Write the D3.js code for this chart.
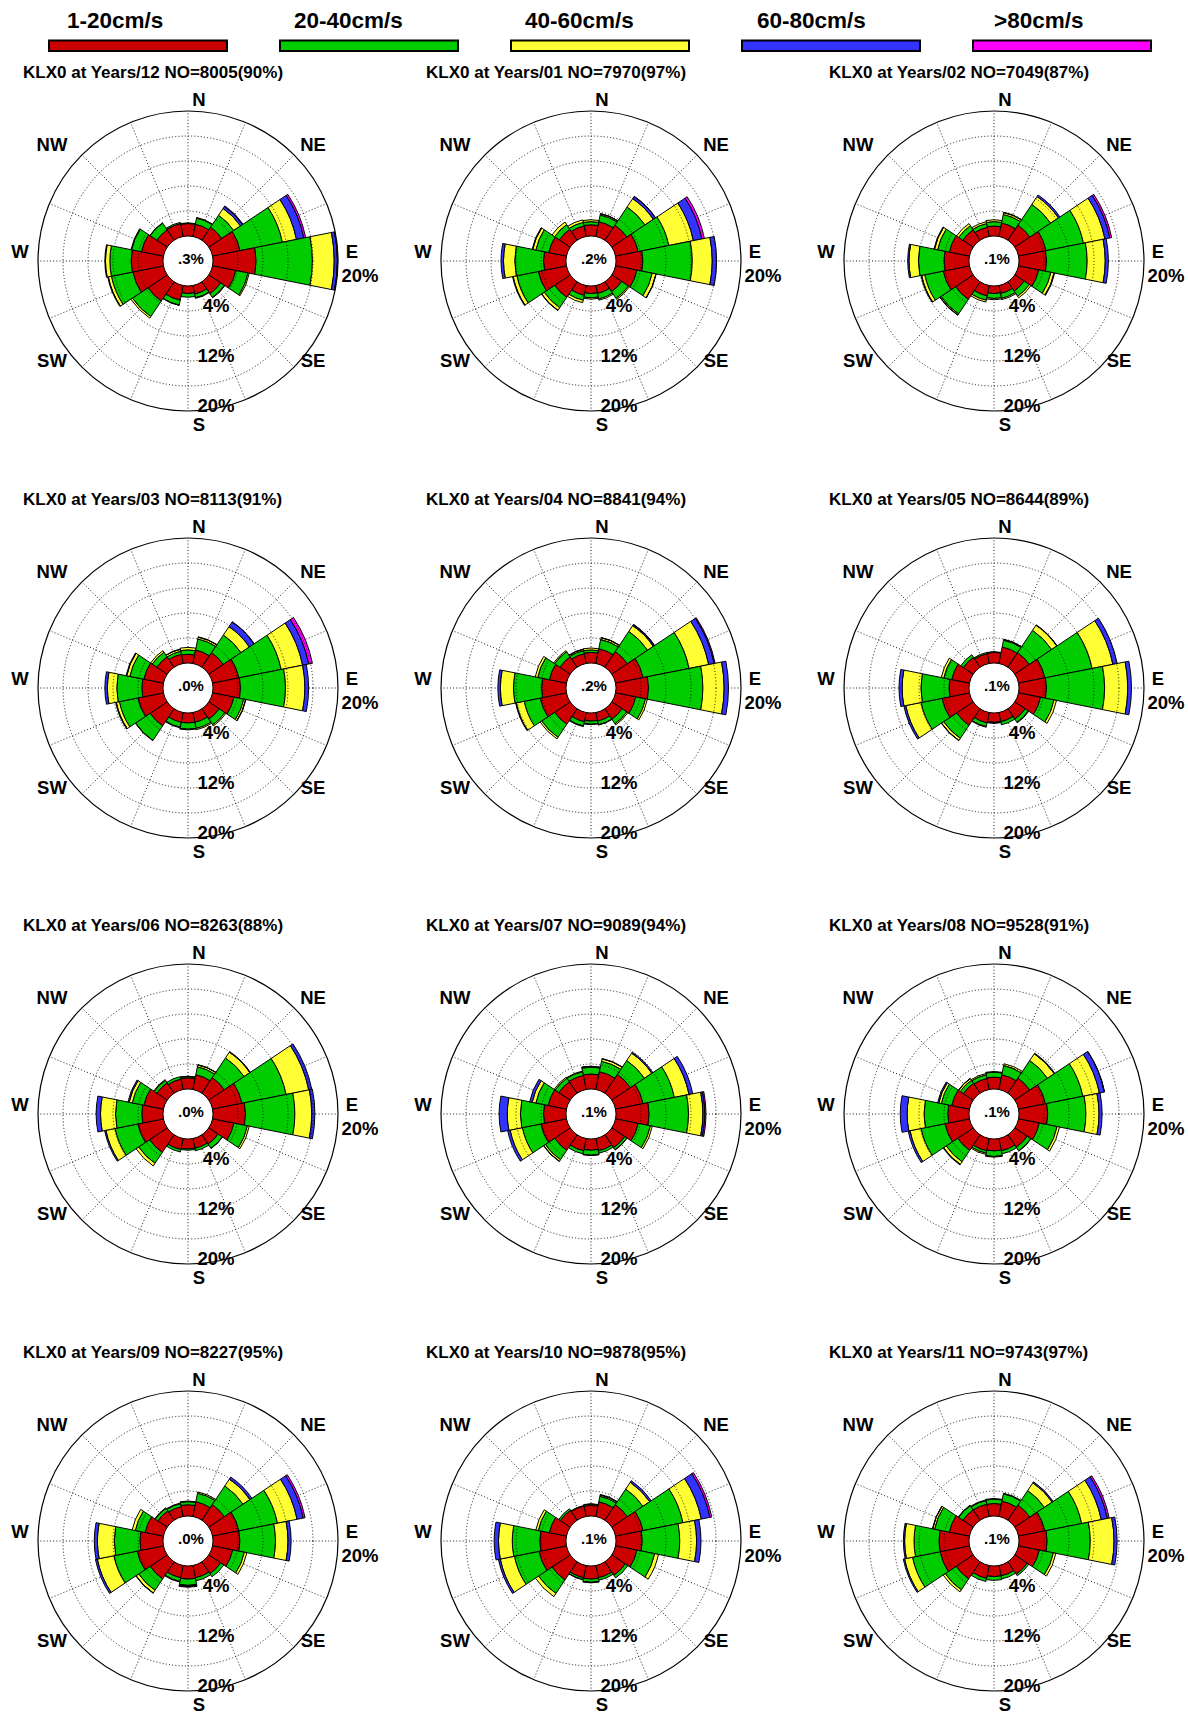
<!DOCTYPE html>
<html><head><meta charset="utf-8">
<script src="https://cdn.jsdelivr.net/npm/d3@7"></script>
<style>
body{margin:0;background:#fff}
text{font-family:"Liberation Sans",Arial,Helvetica,sans-serif;font-weight:bold;fill:#000}
</style>
</head><body>
<svg id="chart" width="1188" height="1714"></svg>
<script>
// ---------- data ----------
const speedClasses = ["1-20cm/s", "20-40cm/s", "40-60cm/s", "60-80cm/s", ">80cm/s"];
const classColors = ["#cc0000", "#00cc00", "#ffff33", "#3333ff", "#ff00ff"];
const directions = ["N","NNE","NE","ENE","E","ESE","SE","SSE","S","SSW","SW","WSW","W","WNW","NW","NNW"];
const months = ["12","01","02","03","04","05","06","07","08","09","10","11"];
const obsCounts = [8005, 7970, 7049, 8113, 8841, 8644, 8263, 9089, 9528, 8227, 9878, 9743];
const obsPercent = [90, 97, 87, 91, 94, 89, 88, 94, 91, 95, 95, 97];
const calmLabels = [".3%", ".2%", ".1%", ".0%", ".2%", ".1%", ".0%", ".1%", ".1%", ".0%", ".1%", ".1%"];
const ringTicks = [4, 8, 12, 16];
const ringLabelTicks = [4, 12, 20];
const compassLabels = ["N", "NE", "E", "SE", "S", "SW", "W", "NW"];

// percent per speed class (1-20, 20-40, 40-60, 60-80, >80), rows in direction order N..NNW
const m12 = [[2.0,0.1,0,0,0],[2.0,1.0,0.1,0,0],[2.5,2.3,1.3,0.4,0.1],[4.5,6.9,2.3,1.2,0.3],[6.9,9.0,3.5,0.5,0.05],[3.8,2.0,0.2,0,0],[2.3,0.7,0.1,0,0],[1.4,0.6,0.1,0,0],[1.2,0.6,0,0,0],[2.4,0.8,0.05,0,0],[3.7,3.0,0.3,0,0],[5.0,3.5,0.5,0.1,0],[5.1,3.4,0.7,0.1,0],[3.6,1.6,0.1,0,0],[2.0,1.3,0.05,0,0],[2.1,0.2,0,0,0]];
const m01 = [[1.8,0.5,0.3,0,0],[2.4,1.1,0.2,0.05,0],[2.9,3.5,1.6,0.4,0.05],[3.7,5.0,4.0,1.4,0.4],[4.3,7.9,3.2,0.7,0],[3.5,2.5,0.6,0.05,0],[1.9,1.3,0.2,0,0],[1.3,0.9,0.2,0,0],[1.2,0.7,0.2,0,0],[1.6,0.8,0.4,0,0],[3.0,2.0,0.5,0.05,0],[4.6,3.5,0.6,0.1,0],[3.6,4.6,1.8,0.4,0],[2.9,2.1,0.5,0.1,0],[2.1,0.9,0.5,0,0],[1.7,0.6,0.4,0,0]];
const m02 = [[1.6,0.7,0.3,0,0],[2.2,1.4,0.3,0.05,0],[2.9,4.0,1.5,0.3,0],[4.5,6.1,3.5,0.8,0.3],[4.4,6.5,2.9,0.5,0],[3.3,2.0,0.5,0.1,0],[1.8,1.0,0.3,0,0],[1.3,0.8,0.2,0,0],[1.2,0.8,0.2,0,0],[1.7,0.7,0.3,0,0],[3.4,2.8,0.2,0.05,0],[4.3,3.0,0.5,0.1,0],[4.0,4.1,1.5,0.2,0],[3.3,1.9,0.5,0.1,0],[2.0,0.8,0.4,0,0],[1.5,0.6,0.3,0,0]];
const m03 = [[1.4,0.7,0.4,0,0],[2.2,1.8,0.3,0.05,0],[2.8,3.4,1.6,0.9,0.05],[4.3,6.9,3.5,1.0,0.6],[4.4,7.2,3.1,0.6,0],[3.5,1.6,0.3,0.05,0],[2.0,1.1,0.2,0,0],[1.6,1.0,0.2,0,0],[1.6,1.0,0.1,0,0],[1.6,0.8,0.1,0,0],[3.3,2.8,0.05,0,0],[4.2,3.0,0.5,0.1,0],[3.4,4.0,1.5,0.4,0],[3.2,2.3,0.5,0.1,0],[2.0,0.9,0.3,0,0],[1.5,0.5,0.3,0.05,0]];
const m04 = [[1.7,0.4,0.3,0,0],[2.4,1.5,0.3,0.05,0],[3.0,3.9,1.1,0.2,0.05],[4.5,7.5,3.2,0.9,0.15],[5.2,8.7,3.4,0.7,0],[3.3,1.6,0.3,0,0],[2.0,0.9,0.2,0,0],[1.4,0.6,0.05,0,0],[1.3,0.5,0.05,0,0],[1.5,0.7,0.1,0,0],[3.0,2.5,0.3,0,0],[4.3,2.6,1.3,0.1,0],[3.9,4.5,2.1,0.4,0],[2.8,1.9,0.4,0,0],[2.0,1.0,0.2,0,0],[1.6,0.5,0.2,0.05,0]];
const m05 = [[1.7,0.05,0.05,0,0],[2.7,1.1,0.1,0.05,0],[2.8,4.3,1.0,0.05,0],[4.3,7.7,3.4,0.7,0],[4.4,9.3,3.7,0.6,0],[3.6,2.2,0.4,0,0],[2.0,0.6,0.1,0,0],[1.5,0.5,0,0,0],[1.5,0.1,0.05,0,0],[1.7,0.6,0.1,0,0],[3.2,2.5,0.4,0.05,0],[4.5,3.4,2.5,0.3,0],[3.2,4.5,3.0,0.5,0],[2.9,1.3,0.4,0,0],[1.9,0.5,0,0,0],[1.6,0.2,0,0,0]];
const m06 = [[1.8,0.2,0.05,0,0],[2.4,1.3,0.3,0.05,0],[3.0,3.8,1.1,0.1,0],[4.8,7.2,3.7,0.5,0],[5.2,7.9,2.7,0.5,0],[3.5,2.2,0.3,0,0],[1.8,0.8,0.05,0,0],[1.6,0.4,0,0,0],[1.6,0.2,0,0,0],[1.8,0.4,0,0,0],[3.4,2.1,0.5,0,0],[4.2,3.7,1.5,0.2,0],[3.4,4.2,2.4,0.7,0],[3.2,1.9,0.5,0.2,0],[2.0,0.5,0.1,0,0],[1.7,0.4,0,0,0]];
const m07 = [[2.4,1.1,0.1,0.05,0],[2.9,1.7,0.4,0.05,0],[3.6,2.7,1.4,0.2,0],[4.5,5.1,2.4,0.6,0],[5.3,6.3,2.3,0.3,0.2],[3.7,2.0,0.3,0,0],[2.5,0.4,0.05,0,0],[2.0,0.4,0,0,0],[1.8,0.8,0.05,0,0],[2.0,0.5,0,0,0],[3.0,1.8,0.3,0.05,0],[4.2,3.0,2.0,0.4,0],[3.6,3.7,2.1,1.3,0],[3.0,2.0,0.6,0.4,0],[2.2,0.7,0.2,0,0],[2.3,0.6,0.1,0,0]];
const m08 = [[1.9,0.8,0.1,0,0],[2.4,1.5,0.3,0,0],[2.9,3.4,1.3,0.1,0],[4.4,6.1,2.7,0.8,0.05],[4.6,6.1,2.1,0.5,0],[3.4,2.9,0.4,0,0],[2.4,0.7,0.05,0,0],[2.0,0.5,0,0,0],[1.9,0.9,0.1,0,0],[2.0,0.4,0.2,0,0],[3.0,2.2,0.5,0.1,0],[4.0,3.9,1.8,0.3,0],[3.4,3.8,2.7,1.1,0],[2.9,1.7,0.4,0.2,0],[1.9,0.6,0.3,0.05,0],[1.8,0.6,0.2,0,0]];
const m09 = [[1.8,0.5,0.1,0,0],[2.4,1.4,0.2,0,0],[3.0,3.6,1.3,0.4,0],[4.3,6.3,3.2,1.0,0.3],[4.3,5.7,2.0,0.5,0],[3.3,1.9,0.4,0,0],[2.3,0.6,0,0,0],[2.0,0.5,0,0,0],[2.1,1.0,0.1,0.1,0.1],[2.0,0.6,0.1,0,0],[3.3,2.2,0.5,0.05,0],[4.3,3.8,2.7,0.3,0],[3.7,4.1,2.7,0.5,0],[3.0,1.6,0.5,0,0],[1.8,0.5,0.1,0,0],[1.6,0.5,0.1,0,0]];
const m10 = [[1.7,0.2,0.05,0,0],[2.4,0.9,0.2,0.1,0],[3.0,3.0,1.3,0.3,0],[4.5,6.5,3.0,1.4,0.3],[4.2,6.0,2.7,0.7,0],[3.5,2.9,0.6,0,0],[2.6,0.5,0,0,0],[2.0,0.4,0,0,0],[2.1,0.5,0.1,0,0],[2.0,0.3,0.05,0,0],[3.5,2.6,0.6,0,0],[4.5,4.0,2.3,0.3,0],[4.2,4.4,2.2,0.7,0],[2.8,1.8,0.4,0,0],[1.9,0.3,0,0,0],[1.7,0.1,0,0,0]];
const m11 = [[2.0,0.7,0.1,0,0],[2.5,1.2,0.1,0,0],[2.9,2.8,1.5,0.2,0],[4.3,6.0,3.2,1.0,0.3],[4.5,6.9,3.8,0.5,0],[3.4,2.3,0.4,0,0],[2.4,0.3,0,0,0],[1.7,0.5,0,0,0],[1.7,0.6,0,0,0],[2.1,0.5,0,0,0],[3.3,2.1,0.4,0,0],[4.8,4.5,1.3,0.2,0],[4.8,4.0,1.5,0.2,0],[3.3,2.4,0.3,0.05,0],[2.0,0.8,0.1,0,0],[2.0,0.6,0.1,0,0]];
const roseData = [m12, m01, m02, m03, m04, m05, m06, m07, m08, m09, m10, m11];

// ---------- layout ----------
const W = 1188, H = 1714;
const colX = [188, 591, 994];
const rowY = [261, 688, 1114, 1541];
const compassOffsets = {N:[11,-160], NE:[125,-115], E:[164,-8], SE:[125,101], S:[11,165], SW:[-136,101], W:[-168,-8], NW:[-136,-115]};
const dotStyle = {stroke: "#000", width: 0.9, dash: "1,2.2"};

const svg = d3.select("#chart");
svg.append("rect").attr("width", W).attr("height", H).attr("fill", "#fff");

// legend
const legendX = d3.scaleLinear().domain([0, 1]).range([49, 280]);
const legendLabelX = [67, 294, 525, 757, 994];
const leg = svg.append("g");
speedClasses.forEach((c, i) => {
  leg.append("text").attr("x", legendLabelX[i]).attr("y", 22)
    .attr("dominant-baseline", "middle").attr("font-size", 22.5).text(c);
  leg.append("rect").attr("x", legendX(i)).attr("y", 40.5).attr("width", 178).attr("height", 10.5)
    .attr("fill", classColors[i]).attr("stroke", "#000").attr("stroke-width", 2);
});

const r = d3.scaleLinear().domain([0, 20]).range([25, 150]);
const ang = d3.scaleLinear().domain([0, directions.length]).range([0, 2 * Math.PI]);
const half = Math.PI / directions.length;
const arc = d3.arc();

roseData.forEach((data, k) => {
  const cx = colX[k % 3], cy = rowY[Math.floor(k / 3)];
  const g = svg.append("g").attr("transform", `translate(${cx},${cy})`);

  // title
  svg.append("text").attr("x", cx - 165).attr("y", cy - 187)
    .attr("dominant-baseline", "middle").attr("font-size", 17)
    .text(`KLX0 at Years/${months[k]} NO=${obsCounts[k]}(${obsPercent[k]}%)`);

  // spokes
  g.selectAll("line.spoke").data(directions).join("line").attr("class", "spoke")
    .attr("x1", (d, i) => r(0) * Math.sin(ang(i))).attr("y1", (d, i) => -r(0) * Math.cos(ang(i)))
    .attr("x2", (d, i) => r(20) * Math.sin(ang(i))).attr("y2", (d, i) => -r(20) * Math.cos(ang(i)))
    .attr("stroke", dotStyle.stroke).attr("stroke-width", dotStyle.width).attr("stroke-dasharray", dotStyle.dash);

  // bars
  const segs = [];
  data.forEach((vals, i) => {
    let cum = 0;
    vals.forEach((v, c) => {
      if (v > 0) segs.push({i, c, v0: cum, v1: cum + v});
      cum += v;
    });
  });
  g.selectAll("path.seg").data(segs).join("path").attr("class", "seg")
    .attr("d", s => arc({innerRadius: r(s.v0), outerRadius: r(s.v1),
      startAngle: ang(s.i) - half, endAngle: ang(s.i) + half}))
    .attr("fill", s => classColors[s.c]).attr("stroke", "#000").attr("stroke-width", 1)
    .attr("stroke-linejoin", "miter");

  // rings on top
  g.selectAll("circle.ring").data(ringTicks).join("circle").attr("class", "ring")
    .attr("r", d => r(d)).attr("fill", "none").attr("stroke", dotStyle.stroke)
    .attr("stroke-width", dotStyle.width).attr("stroke-dasharray", dotStyle.dash);
  g.append("circle").attr("r", r(20)).attr("fill", "none").attr("stroke", "#000").attr("stroke-width", 1.2);

  // compass labels
  compassLabels.forEach(lb => {
    g.append("text").attr("x", compassOffsets[lb][0]).attr("y", compassOffsets[lb][1])
      .attr("text-anchor", "middle").attr("dominant-baseline", "middle").attr("font-size", 18.5).text(lb);
  });
  g.append("text").attr("x", 172).attr("y", 16).attr("text-anchor", "middle")
    .attr("dominant-baseline", "middle").attr("font-size", 18.5).text("20%");

  // ring labels
  g.selectAll("text.rl").data(ringLabelTicks).join("text").attr("class", "rl")
    .attr("x", 28).attr("y", d => r(d) - 4).attr("text-anchor", "middle")
    .attr("dominant-baseline", "middle").attr("font-size", 18.5).text(d => d + "%");

  // calm
  g.append("text").attr("x", 3).attr("y", -1).attr("text-anchor", "middle")
    .attr("dominant-baseline", "middle").attr("font-size", 15).text(calmLabels[k]);
});
</script>
</body></html>
